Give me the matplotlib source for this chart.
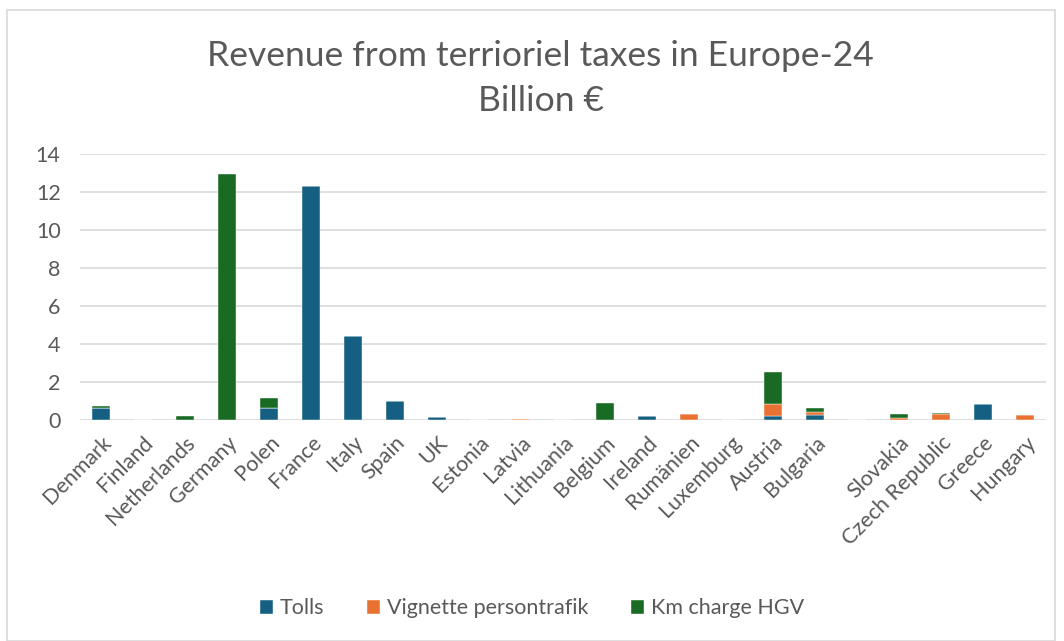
import matplotlib
matplotlib.use("Agg")
import matplotlib.pyplot as plt
import numpy as np
from matplotlib.patches import Rectangle

countries = ["Denmark", "Finland", "Netherlands", "Germany", "Polen", "France",
             "Italy", "Spain", "UK", "Estonia", "Latvia", "Lithuania", "Belgium",
             "Ireland", "Rumänien", "Luxemburg", "Austria", "Bulgaria", "",
             "Slovakia", "Czech Republic", "Greece", "Hungary"]
tolls = [0.63, 0, 0, 0, 0.65, 12.32, 4.4, 0.97, 0.16, 0, 0, 0, 0,
         0.2, 0, 0, 0.21, 0.23, 0, 0, 0, 0.86, 0]
vignette = [0, 0, 0, 0, 0, 0, 0, 0, 0, 0, 0.07, 0, 0,
            0, 0.33, 0, 0.61, 0.17, 0, 0.1, 0.32, 0, 0.28]
km_charge = [0.1, 0, 0.18, 12.94, 0.5, 0, 0, 0, 0, 0, 0, 0, 0.9,
             0, 0, 0, 1.69, 0.2, 0, 0.23, 0.06, 0, 0]
series_names = ["Tolls", "Vignette persontrafik", "Km charge HGV"]
yticks = [0, 2, 4, 6, 8, 10, 12, 14]

colors = ["#156082", "#E97132", "#196B24"]
text_color = "#595959"
plt.rcParams["font.family"] = ["Lato", "DejaVu Sans"]

fig = plt.figure(figsize=(10.64, 6.41), dpi=100)
fig.patches.append(Rectangle((0.007, 0.0), 0.985, 0.984, transform=fig.transFigure,
                             fill=False, edgecolor="#D9D9D9", linewidth=1.2))
ax = fig.add_axes([0.0752, 0.345, 0.908, 0.415])

x = np.arange(len(countries))
bottom = np.zeros(len(countries))
for name, vals, c in zip(series_names, [tolls, vignette, km_charge], colors):
    v = np.array(vals)
    ax.bar(x, v, 0.42, bottom=bottom, color=c, label=name,
           edgecolor="white", linewidth=0.3, zorder=3)
    bottom += v

ax.set_xlim(-0.5, len(countries) - 0.5)
ax.set_ylim(0, 14)
ax.set_yticks(yticks)
ax.yaxis.grid(True, color="#D9D9D9", linewidth=1.2, zorder=0)
for s in ax.spines.values():
    s.set_visible(False)
ax.tick_params(axis="both", length=0, labelsize=15.5, colors=text_color)
ax.tick_params(axis="y", pad=14)
ax.set_xticks(x)
ax.set_xticklabels(countries, rotation=45, ha="right", va="top",
                   rotation_mode="anchor")
ax.tick_params(axis="x", pad=9)

fig.text(0.508, 0.912, "Revenue from terrioriel taxes in Europe-24",
         ha="center", va="center", fontsize=25.5, color=text_color)
fig.text(0.508, 0.842, "Billion €", ha="center", va="center",
         fontsize=25.5, color=text_color)

leg = fig.legend(loc="center", bbox_to_anchor=(0.5, 0.051), ncol=3,
                 frameon=False, fontsize=15.5, handlelength=0.6,
                 handleheight=0.6, handletextpad=0.3, columnspacing=2.0)
for t in leg.get_texts():
    t.set_color(text_color)

fig.savefig("out.png", dpi=100, facecolor="white")
